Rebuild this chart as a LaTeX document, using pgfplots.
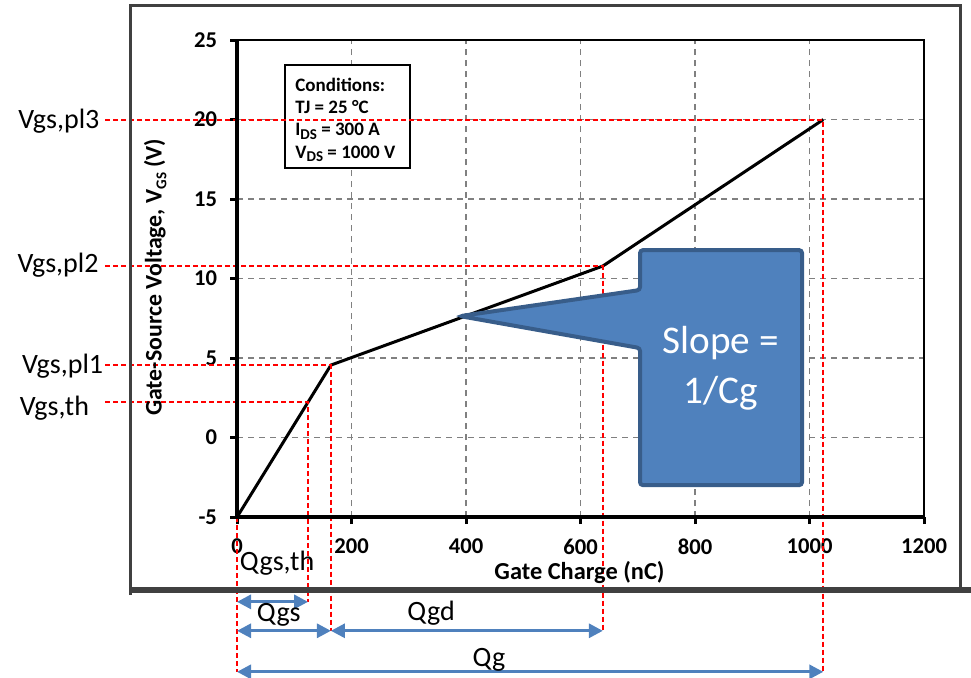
\documentclass[border=0pt]{standalone}
\usepackage{fontspec}
\setmainfont{Carlito}
\usepackage{pgfplots}
\pgfplotsset{compat=1.18}
\usetikzlibrary{arrows.meta}
\definecolor{calloutfill}{HTML}{4F81BD}
\definecolor{calloutedge}{HTML}{385D8A}
\definecolor{gridgray}{HTML}{808080}
\definecolor{framegray}{HTML}{404040}
\newcommand{\sub}[1]{\raisebox{-0.4ex}{\fontsize{7.5}{7.5}\selectfont #1}}
\tikzset{
  reddash/.style={red, line width=1pt, dash pattern=on 2.5pt off 1.5pt},
  qarrow/.style={calloutfill, line width=1.5pt,
    {Triangle[length=7pt,width=7pt]}-{Triangle[length=7pt,width=7pt]}},
  qlabel/.style={font=\fontsize{14}{16}\selectfont, inner sep=0pt},
}

\begin{document}
\begin{tikzpicture}
\begin{axis}[
  scale only axis, width=343.5pt, height=238.5pt,
  xmin=0, xmax=1200, ymin=-5, ymax=25,
  xtick={0,200,...,1200}, ytick={-5,0,...,25},
  grid=major,
  grid style={gridgray, line width=0.7pt, dash pattern=on 3pt off 2.5pt},
  axis line style={black, line width=0.8pt},
  tick align=outside, xtick pos=lower, ytick pos=left,
  major tick length=3.5pt,
  tick style={black, line width=1.5pt},
  /pgf/number format/assume math mode=true,
  /pgf/number format/1000 sep={},
  tick label style={font=\bfseries\fontsize{11.3}{13}\selectfont},
  xticklabel style={yshift=-4pt},
  yticklabel style={xshift=-3pt},
  xlabel={Gate Charge (nC)},
  ylabel={Gate-Source Voltage, V\sub{GS} (V)},
  every axis x label/.style={at={(axis description cs:0.4985,-0.117)}, anchor=center,
    font=\bfseries\fontsize{12.2}{14}\selectfont},
  every axis y label/.style={at={(axis description cs:-0.119,0.503)}, anchor=center, rotate=90,
    font=\bfseries\fontsize{11.9}{14}\selectfont},
  clip=false,
]
% conditions box
\draw[fill=white, line width=1pt] (axis cs:83.8,23.43) rectangle (axis cs:302.2,16.95);
\node[anchor=north west, align=left, inner sep=0pt,
  font=\bfseries\fontsize{9.5}{11}\selectfont] at (axis cs:101.3,22.6)
  {Conditions:\\TJ = 25 °C\\I\sub{DS} = 300 A\\V\sub{DS} = 1000 V};

% gate charge curve
\addplot[black, line width=1.5pt, line join=miter] coordinates {
  (0,-5) (164,4.56) (639,10.79) (1024,20)
};

% red guide lines
\draw[reddash] (axis cs:-230,20) -- (axis cs:1024,20) -- (axis cs:1024,-14.73);
\draw[reddash] (axis cs:-230,10.79) -- (axis cs:639,10.79) -- (axis cs:639,-12.15);
\draw[reddash] (axis cs:-230,4.56) -- (axis cs:164,4.56) -- (axis cs:164,-12.15);
\draw[reddash] (axis cs:-230,2.25) -- (axis cs:124,2.25) -- (axis cs:124,-10.33);
\draw[reddash] (axis cs:0,-5) -- (axis cs:0,-14.73);

% left labels
\node[qlabel, anchor=base west] at (axis cs:-382.5,19.47) {Vgs,pl3};
\node[qlabel, anchor=base west] at (axis cs:-384,10.41) {Vgs,pl2};
\node[qlabel, anchor=base west] at (axis cs:-376,4.06) {Vgs,pl1};
\node[qlabel, anchor=base west] at (axis cs:-380,1.42) {Vgs,th};

% charge arrows
\draw[qarrow] (axis cs:0,-10.33) -- (axis cs:124,-10.33);
\draw[qarrow] (axis cs:0,-12.15) -- (axis cs:164,-12.15);
\draw[qarrow] (axis cs:164,-12.15) -- (axis cs:639,-12.15);
\draw[qarrow] (axis cs:0,-14.73) -- (axis cs:1024,-14.73);
\node[qlabel] at (axis cs:70,-7.9) {Qgs,th};
\node[qlabel] at (axis cs:73,-11.16) {Qgs};
\node[qlabel] at (axis cs:339,-11.04) {Qgd};
\node[qlabel] at (axis cs:440,-14.0) {Qg};

% callout
\draw[calloutedge, fill=calloutfill, line width=2pt, rounded corners=1.5pt]
  (axis cs:703.9,11.79) -- (axis cs:986.9,11.79) -- (axis cs:986.9,-2.99)
  -- (axis cs:703.9,-2.99) -- (axis cs:703.9,5.63) -- (axis cs:389.5,7.64)
  -- (axis cs:703.9,9.28) -- cycle;
\node[white, align=center, font=\fontsize{19.6}{25}\selectfont] at (axis cs:845,4.35)
  {Slope =\\1/Cg};

% thick left and bottom axis lines
\draw[black, line width=2pt] (rel axis cs:0,1) -- (rel axis cs:0,0) -- (rel axis cs:1,0);

% outer frame
\draw[framegray, line width=1.5pt] (axis cs:-186.9,-9.91) -- (axis cs:-186.9,27.2)
  -- (axis cs:1263,27.2) -- (axis cs:1263,-9.59);
\draw[framegray, line width=3pt] (axis cs:-186.9,-9.59) -- (axis cs:1282,-9.59);

\coordinate (bl) at (axis cs:-414,-15.06);
\coordinate (tr) at (axis cs:1282,27.52);
\end{axis}
\pgfresetboundingbox
\useasboundingbox (bl) rectangle (tr);
\end{tikzpicture}
\end{document}
